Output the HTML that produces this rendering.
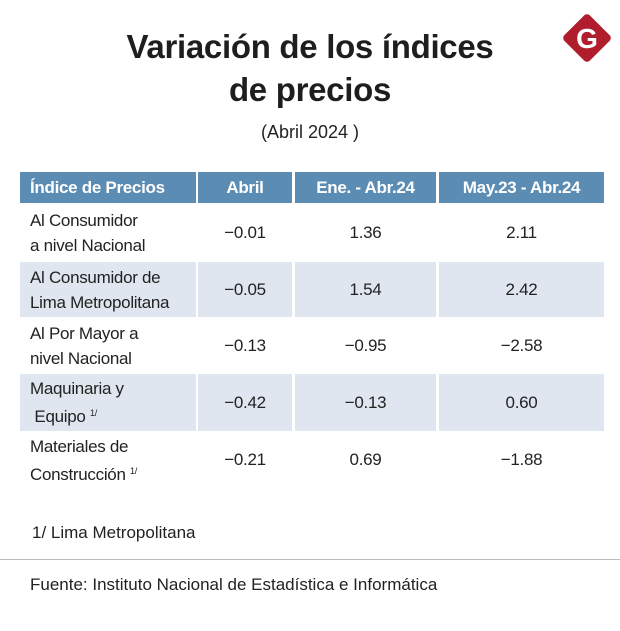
<!DOCTYPE html>
<html><head><meta charset="utf-8"><style>
*{margin:0;padding:0;box-sizing:border-box}
body{width:620px;height:631px;background:#fff;position:relative;overflow:hidden;font-family:"Liberation Sans Narrow","Liberation Sans",sans-serif;color:#222}
.abs{position:absolute}
.title{left:0;width:620px;text-align:center;font-weight:bold;font-size:33px;color:#1e1e1e;letter-spacing:-0.3px;font-family:"Liberation Sans",sans-serif}
.cell{position:absolute;display:flex;align-items:center;font-size:17px;letter-spacing:-0.3px}
.hd{background:#5b8cb4;color:#fff;font-weight:bold;justify-content:center;font-size:17px}
.alt{background:#dfe6ef}
sup{font-size:9px;vertical-align:6px}
</style></head><body>
<div class="abs title" style="top:28px">Variación de los índices</div>
<div class="abs title" style="top:71px">de precios</div>
<div class="abs" style="top:122px;left:0;width:620px;text-align:center;font-size:18px;font-family:'Liberation Sans',sans-serif">(Abril 2024 )</div>
<svg class="abs" style="left:560px;top:11px" width="54" height="54">
<rect x="9" y="9" width="36" height="36" rx="4" transform="rotate(45 27 27)" fill="#b01e2e"/>
<text x="27" y="37" text-anchor="middle" font-family="Liberation Sans,sans-serif" font-weight="bold" font-size="28" fill="#fff">G</text>
</svg>
<div id="tbl"></div>
<div class="abs" style="left:32px;top:523px;font-size:17px">1/ Lima Metropolitana</div>
<div class="abs" style="left:0;top:559px;width:620px;height:1px;background:#bbb"></div>
<div class="abs" style="left:30px;top:575px;font-size:17px">Fuente: Instituto Nacional de Estadística e Informática</div>
<script>
const headers=["Índice de Precios","Abril","Ene. - Abr.24","May.23 - Abr.24"];
const rowLabels=["Al Consumidor<br>a nivel Nacional","Al Consumidor de<br>Lima Metropolitana","Al Por Mayor a<br>nivel Nacional","Maquinaria y<br>&nbsp;Equipo <sup>1/</sup>","Materiales de<br>Construcción <sup>1/</sup>"];
const abril=["-0.01","-0.05","-0.13","-0.42","-0.21"];
const eneAbr=["1.36","1.54","-0.95","-0.13","0.69"];
const mayAbr=["2.11","2.42","-2.58","0.60","-1.88"];
const colX=[20,198,295,439],colW=[176,94,141,165];
const t=document.getElementById('tbl');
function cell(x,y,w,h,html,cls,name,center){
  const d=document.createElement('div');
  d.className='cell '+cls;
  d.style.left=x+'px';d.style.top=y+'px';d.style.width=w+'px';d.style.height=h+'px';
  if(center)d.style.justifyContent='center';else {d.style.justifyContent='flex-start';d.style.paddingLeft='10px';}
  d.innerHTML=html;
  
  
  t.appendChild(d);
}
headers.forEach((h,i)=>{
  cell(colX[i],172,colW[i],31,h,'hd','header-'+i,i>0);
});
const rowY=[205,262,319,374,433],rowH=[55,55,53,57,54];
rowLabels.forEach((l,r)=>{
  const cls=(r%2==1)?'alt':'';
  cell(colX[0],rowY[r],colW[0],rowH[r],'<span style="line-height:25px">'+l+'</span>',cls,'row-label-'+r,false);
  cell(colX[1],rowY[r],colW[1],rowH[r],abril[r].replace('-','−'),cls,'abril-value-'+r,true);
  cell(colX[2],rowY[r],colW[2],rowH[r],eneAbr[r].replace('-','−'),cls,'ene-abr-value-'+r,true);
  cell(colX[3],rowY[r],colW[3],rowH[r],mayAbr[r].replace('-','−'),cls,'may-abr-value-'+r,true);
});
</script>
</body></html>
